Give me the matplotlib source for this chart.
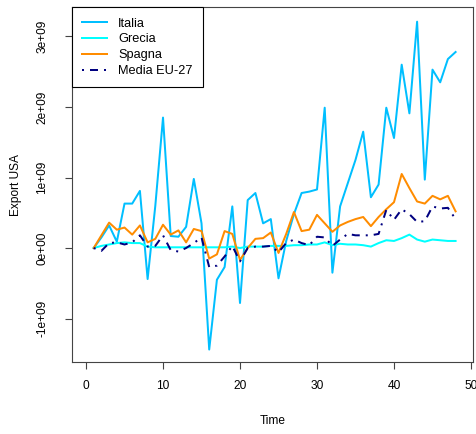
import matplotlib
matplotlib.use("Agg")
import matplotlib.pyplot as plt
import numpy as np

plt.rcParams['font.family'] = ['Liberation Sans', 'DejaVu Sans']

# export values, in billions (1e9)
time = list(range(1, 49))
italia = [0, 0.15, 0.32, 0.09, 0.63, 0.63, 0.81, -0.44, 0.6, 1.85,
          0.17, 0.16, 0.3, 0.98, 0.35, -1.44, -0.45, -0.27, 0.59, -0.78,
          0.68, 0.78, 0.35, 0.41, -0.43, 0.1, 0.48, 0.78, 0.8, 0.83,
          1.99, -0.35, 0.59, 0.92, 1.25, 1.65, 0.72, 0.9, 1.99, 1.56,
          2.6, 1.91, 3.21, 0.97, 2.53, 2.35, 2.68, 2.78]
grecia = [0, 0.03, 0.05, 0.07, 0.08, 0.07, 0.07, 0.02, 0.01, 0.01,
          0.01, 0.01, 0.01, 0.01, 0.01, 0.01, 0.01, 0.01, 0.02, 0.0,
          0.02, 0.02, 0.02, 0.03, 0.03, 0.03, 0.04, 0.04, 0.05, 0.05,
          0.08, 0.04, 0.06, 0.05, 0.05, 0.04, 0.02, 0.07, 0.11, 0.1,
          0.14, 0.19, 0.12, 0.09, 0.12, 0.11, 0.1, 0.1]
spagna = [0, 0.18, 0.36, 0.26, 0.29, 0.19, 0.32, 0.08, 0.13, 0.33,
          0.19, 0.25, 0.08, 0.27, 0.24, -0.15, -0.09, 0.24, 0.2, -0.17,
          0.0, 0.13, 0.14, 0.22, -0.07, 0.2, 0.51, 0.24, 0.26, 0.47,
          0.35, 0.23, 0.32, 0.37, 0.41, 0.44, 0.31, 0.44, 0.55, 0.65,
          1.05, 0.85, 0.66, 0.63, 0.74, 0.69, 0.74, 0.52]
media_eu = [0, -0.04, 0.07, 0.08, 0.05, 0.08, 0.18, 0.02, 0.03, 0.18,
            -0.03, -0.05, 0.0, 0.07, 0.15, -0.27, -0.25, -0.12, 0.03, -0.19,
            0.0, 0.02, 0.02, 0.03, -0.06, 0.07, 0.12, 0.07, 0.04, 0.16,
            0.15, 0.03, 0.12, 0.2, 0.18, 0.18, 0.18, 0.2, 0.54, 0.4,
            0.55, 0.48, 0.37, 0.38, 0.59, 0.56, 0.57, 0.41]

xticks = [0, 10, 20, 30, 40, 50]
yticks = [-1e9, 0, 1e9, 2e9, 3e9]
ytick_labels = ['-1e+09', '0e+00', '1e+09', '2e+09', '3e+09']

fs = 8.6
lw = 1.44

fig = plt.figure(figsize=(4.77, 4.34), dpi=100)
ax = fig.add_axes([71.7 / 477, (434 - 362.3) / 434, (473.3 - 71.7) / 477, (362.3 - 7.3) / 434])

ax.plot(time, np.array(italia) * 1e9, color='#00BFFF', lw=lw, label='Italia')
ax.plot(time, np.array(grecia) * 1e9, color='#00FFFF', lw=lw, label='Grecia')
ax.plot(time, np.array(spagna) * 1e9, color='#FF8C00', lw=lw, label='Spagna')
ax.plot(time, np.array(media_eu) * 1e9, color='#000080', lw=lw,
        linestyle=(0, (1, 3, 4, 3)), label='Media EU-27')

ax.set_xlim(-1.86, 50.3)
ax.set_ylim(-1.621e9, 3.414e9)
ax.set_xticks(xticks)
ax.set_xticklabels([str(v) for v in xticks], fontsize=fs)
ax.set_yticks(yticks)
ax.set_yticklabels(ytick_labels, fontsize=fs, rotation=90, va='center')
ax.tick_params(direction='out', length=5, width=0.8, color='#444444')
ax.tick_params(axis='x', pad=8)
ax.tick_params(axis='y', pad=12)
for s in ax.spines.values():
    s.set_linewidth(0.8)
    s.set_color('#444444')

ax.set_xlabel('Time', fontsize=fs, labelpad=16)
ax.set_ylabel('Export USA', fontsize=fs, labelpad=10)

leg = ax.legend(loc='upper left', bbox_to_anchor=(0, 1), borderaxespad=0,
                fancybox=False, framealpha=1, edgecolor='black', fontsize=9.2,
                handlelength=1.95, handletextpad=0.9, labelspacing=0.3,
                borderpad=0.8)
leg.get_frame().set_linewidth(0.8)

fig.savefig('out.png', dpi=100)
